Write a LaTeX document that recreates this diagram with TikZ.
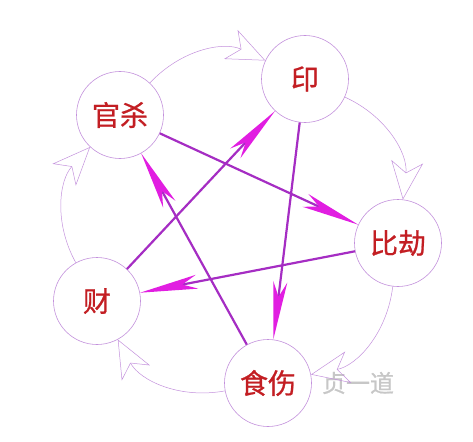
\documentclass[tikz,border=0pt]{standalone}
\usepackage{fontspec}
\newfontfamily\cjk{Noto Sans CJK SC}[FakeBold=0.8]
\usetikzlibrary{arrows.meta}
\definecolor{ringline}{RGB}{195,145,220}
\definecolor{starline}{RGB}{165,45,195}
\definecolor{starhead}{RGB}{225,30,225}
\definecolor{wxred}{RGB}{195,30,35}
\tikzset{x=1pt, y=1pt,
    wx/.style={
        circle,
        draw=ringline,
        line width=0.6pt,
        fill=white,
        minimum size=87pt,
        inner sep=0pt,
        text=wxred,
        font=\cjk\fontsize{28}{28}\selectfont},
    sheng/.style={
        draw=ringline,
        line width=0.5pt,
        bend left=36,
        -{Stealth[open, length=38pt, width=32pt, inset=11pt]}},
    ke/.style={
        draw=starline,
        line width=2.2pt,
        -{Stealth[length=58pt, width=14pt, inset=15pt, color=starhead]}}}

\begin{document}
\begin{tikzpicture}
        \useasboundingbox (0,0) rectangle (473,-441);
        \node[text=black!22, font=\cjk\fontsize{24}{24}\selectfont] (mark) at (358,-383) {贞一道};

        \node[wx] (yin) at (305,-79) {印};
        \node[wx] (guan) at (120,-115) {官杀};
        \node[wx] (bi) at (398,-243) {比劫};
        \node[wx] (shi) at (268,-383) {食伤};
        \node[wx] (cai) at (97,-301) {财};

        % outer ring
        \draw (guan) edge[sheng] (yin);
        \draw (yin) edge[sheng] (bi);
        \draw (bi) edge[sheng] (shi);
        \draw (shi) edge[sheng] (cai);
        \draw (cai) edge[sheng] (guan);

        % star
        \draw (guan) edge[ke] (bi);
        \draw (bi) edge[ke] (cai);
        \draw (cai) edge[ke] (yin);
        \draw (yin) edge[ke] (shi);
        \draw (shi) edge[ke] (guan);
    \end{tikzpicture}
\end{document}
